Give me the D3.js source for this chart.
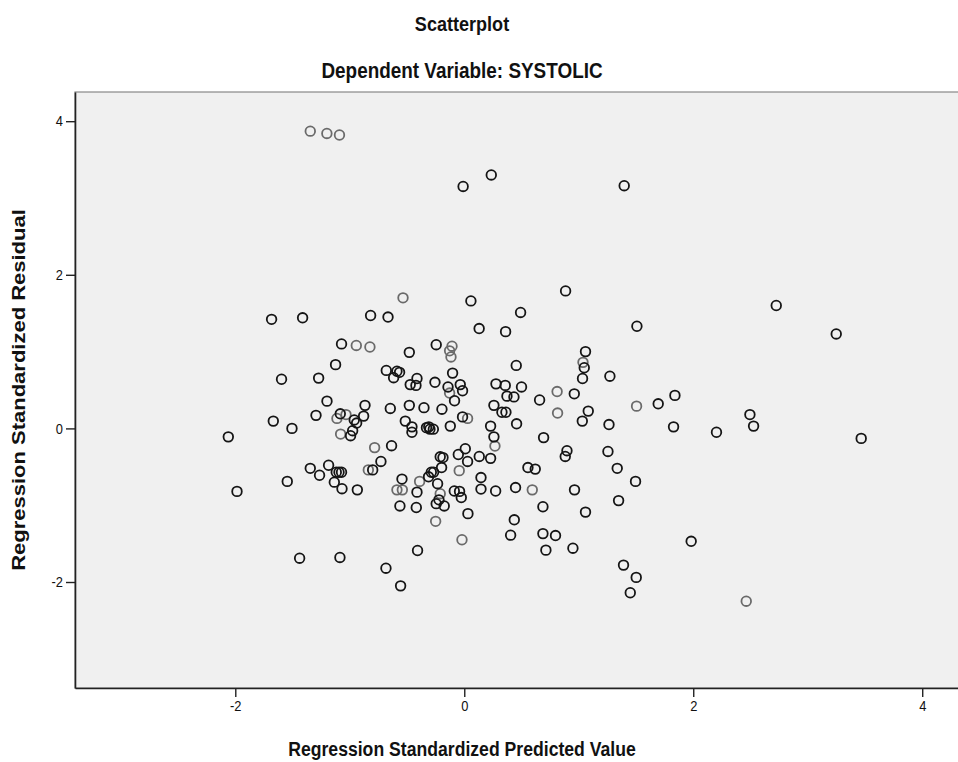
<!DOCTYPE html>
<html>
<head>
<meta charset="utf-8">
<script src="https://cdn.jsdelivr.net/npm/d3@7"></script>
<style>
  body { margin: 0; background: #fff; }
  svg { display: block; font-family: "Liberation Sans", Arial, sans-serif; }
</style>
</head>
<body>
<svg id="chart"></svg>
<script>
const title = "Scatterplot";
const subtitle = "Dependent Variable: SYSTOLIC";
const xLabel = "Regression Standardized Predicted Value";
const yLabel = "Regression Standardized Residual";

const xTicks = [-2, 0, 2, 4];
const yTicks = [-2, 0, 2, 4];

// [standardized predicted, standardized residual]
const points = [
  [-0.01, 3.15], [0.236, 3.3], [1.397, 3.16],
  [2.725, 1.6], [1.508, 1.33], [3.249, 1.23], [1.272, 0.68], [1.694, 0.32], [1.84, 0.43],
  [1.264, 0.05], [1.828, 0.02], [2.203, -0.05], [2.495, 0.18], [2.527, 0.03], [3.467, -0.13],
  [1.255, -0.3], [1.336, -0.52], [1.496, -0.69], [1.348, -0.94], [1.982, -1.47], [1.391, -1.78],
  [1.502, -1.94], [1.45, -2.14],
  [-1.683, 1.42], [-1.412, 1.44], [-0.818, 1.47], [-0.666, 1.45], [-1.072, 1.1], [-0.48, 0.99],
  [-0.245, 1.09], [-1.124, 0.83], [-0.681, 0.755], [-0.588, 0.745], [-0.565, 0.73], [-0.617, 0.66],
  [-1.596, 0.64], [-1.272, 0.655], [-0.413, 0.65], [-0.472, 0.57], [-0.422, 0.56], [-0.256, 0.6],
  [-1.199, 0.355], [-0.867, 0.3], [-0.646, 0.26], [-0.48, 0.3], [-0.352, 0.27], [-1.295, 0.17],
  [-1.083, 0.19], [-0.879, 0.16], [-0.961, 0.11], [-0.94, 0.07], [-0.975, -0.03], [-0.993, -0.095],
  [-1.668, 0.095], [-1.505, 0.0], [-2.061, -0.11], [-0.515, 0.095], [-0.457, 0.02], [-0.457, -0.05],
  [-0.33, 0.01], [-0.3, -0.01], [-0.27, -0.01], [-0.31, 0.02], [-0.635, -0.225],
  [0.058, 1.66], [0.885, 1.79], [0.492, 1.51], [0.13, 1.3], [0.361, 1.26], [1.059, 1.0],
  [1.048, 0.79], [1.033, 0.65], [0.454, 0.82], [-0.102, 0.72], [-0.142, 0.54], [-0.035, 0.57],
  [-0.015, 0.49], [-0.085, 0.36], [0.277, 0.58], [0.358, 0.56], [0.5, 0.54], [0.373, 0.42],
  [0.434, 0.41], [0.259, 0.3], [0.329, 0.21], [0.364, 0.21], [0.658, 0.37], [0.961, 0.45],
  [1.083, 0.225], [1.031, 0.095], [-0.195, 0.25], [-0.015, 0.15], [-0.122, 0.03], [0.23, 0.03],
  [0.259, -0.11], [0.457, 0.06], [0.693, -0.12],
  [-0.728, -0.43], [-1.345, -0.52], [-1.185, -0.48], [-1.264, -0.61], [-1.118, -0.57], [-1.094, -0.57],
  [-1.072, -0.57], [-1.135, -0.7], [-1.068, -0.785], [-0.934, -0.8], [-1.546, -0.69], [-1.985, -0.82],
  [-0.8, -0.54], [-0.544, -0.66], [-0.413, -0.83], [-0.562, -1.01], [-0.419, -1.03], [-0.288, -0.57],
  [-0.268, -0.57], [-0.312, -0.63], [-0.233, -0.72], [-0.21, -0.37], [-0.245, -0.98], [-0.408, -1.59],
  [-1.438, -1.69], [-1.086, -1.68], [-0.684, -1.82], [-0.556, -2.05],
  [0.009, -0.265], [-0.186, -0.38], [-0.052, -0.34], [0.029, -0.43], [0.131, -0.365], [0.23, -0.39],
  [0.897, -0.29], [0.882, -0.365], [-0.221, -0.93], [-0.175, -1.01], [-0.087, -0.815], [-0.041, -0.82],
  [-0.026, -0.9], [0.032, -1.11], [0.146, -0.64], [0.146, -0.79], [0.274, -0.815], [0.448, -0.77],
  [0.556, -0.51], [0.62, -0.53], [0.437, -1.19], [0.405, -1.39], [0.687, -1.02], [0.687, -1.37],
  [0.797, -1.395], [0.713, -1.585], [0.949, -1.56], [0.963, -0.8], [1.059, -1.09], [-0.198, -0.51]
];

// points drawn fainter in the original
const faintPoints = [
  [-1.345, 3.87], [-1.2, 3.84], [-1.09, 3.82],
  [1.505, 0.29], [2.463, -2.25],
  [-0.535, 1.7], [-0.943, 1.08], [-0.824, 1.06], [-1.033, 0.18], [-1.112, 0.13], [-1.08, -0.074],
  [-0.783, -0.25],
  [-0.107, 1.07], [-0.128, 1.01], [-0.116, 0.93], [1.037, 0.86], [-0.128, 0.46], [0.811, 0.48],
  [0.815, 0.2], [0.029, 0.13], [0.268, -0.23],
  [-0.838, -0.54], [-0.588, -0.8], [-0.541, -0.8], [-0.39, -0.69], [-0.25, -1.21],
  [-0.044, -0.55], [-0.21, -0.85], [-0.02, -1.45], [0.594, -0.8]
];

const width = 958;
const height = 762;
const plot = { left: 75, right: 960, top: 92, bottom: 688 };
// the source picture is squeezed sideways, so text is narrowed horizontally
const squeeze = 0.86;

const svg = d3.select("#chart").attr("width", width).attr("height", height);

const x = d3.scaleLinear().domain([-3.4, 4.33]).range([plot.left, plot.right]);
const y = d3.scaleLinear().domain([-3.38, 4.38]).range([plot.bottom, plot.top]);

// plot background
svg.append("rect")
  .attr("x", plot.left)
  .attr("y", plot.top)
  .attr("width", plot.right - plot.left)
  .attr("height", plot.bottom - plot.top)
  .attr("fill", "#f0f0f0")
  .attr("stroke", "#888")
  .attr("stroke-width", 1.2);

const boldText = (txt, transform, size) =>
  svg.append("text")
    .attr("transform", transform)
    .attr("text-anchor", "middle")
    .style("font-size", size + "px")
    .style("font-weight", "bold")
    .attr("fill", "#111")
    .text(txt);

// titles
boldText(title, `translate(462,31) scale(${squeeze},1)`, 21);
boldText(subtitle, `translate(462,78) scale(${squeeze},1)`, 22);

// points
const drawPoints = (data, color) => {
  svg.append("g")
    .selectAll("circle")
    .data(data)
    .enter()
    .append("circle")
    .attr("cx", (d) => x(d[0]))
    .attr("cy", (d) => y(d[1]))
    .attr("r", 4.8)
    .attr("fill", "none")
    .attr("stroke", color)
    .attr("stroke-width", 1.8);
};
drawPoints(faintPoints, "#6a6a6a");
drawPoints(points, "#151515");

// axes (plain hyphen for negatives, like the source)
const plainFormat = (d) => String(d);
const xAxis = svg.append("g")
  .attr("transform", `translate(0,${plot.bottom})`)
  .call(d3.axisBottom(x).tickValues(xTicks).tickFormat(plainFormat)
    .tickSize(9).tickSizeOuter(0).tickPadding(3));
const yAxis = svg.append("g")
  .attr("transform", `translate(${plot.left},0)`)
  .call(d3.axisLeft(y).tickValues(yTicks).tickFormat(plainFormat)
    .tickSize(9).tickSizeOuter(0).tickPadding(3));

[xAxis, yAxis].forEach((g) => {
  g.select(".domain").attr("stroke", "#222").attr("stroke-width", 1.6);
  g.selectAll(".tick line").attr("stroke", "#222").attr("stroke-width", 1.4);
  g.selectAll(".tick text")
    .style("font-family", "\"Liberation Sans\", Arial, sans-serif")
    .style("font-size", "15px")
    .attr("fill", "#111");
});

// narrow the tick labels the same way as the titles
xAxis.selectAll(".tick text")
  .attr("transform", `scale(${squeeze},1)`)
  .attr("y", 12)
  .attr("dy", "0.71em");
yAxis.selectAll(".tick text")
  .attr("transform", `translate(-12,0) scale(${squeeze},1)`)
  .attr("x", 0);

// axis titles
boldText(xLabel, `translate(462,756) scale(${squeeze},1)`, 20.5);
boldText(yLabel, `translate(25,${(plot.top + plot.bottom) / 2}) rotate(-90) scale(1,${squeeze})`, 22);
</script>
</body>
</html>
